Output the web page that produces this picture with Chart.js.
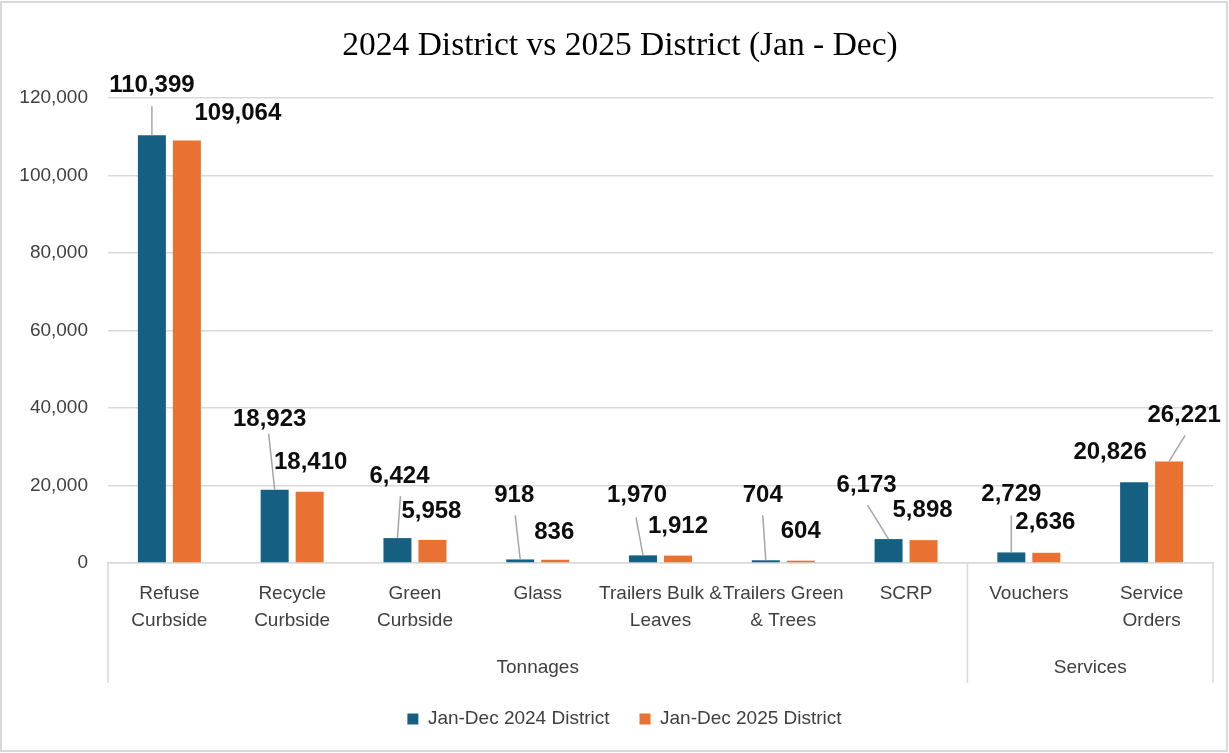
<!DOCTYPE html>
<html><head><meta charset="utf-8">
<script src="https://cdn.jsdelivr.net/npm/chart.js@4.4.1/dist/chart.umd.min.js"></script>
<style>html,body{margin:0;padding:0;background:#fff}canvas{display:block}</style>
</head><body>
<canvas id="c" width="1229" height="753"></canvas>
<script>
const categories = [['Refuse','Curbside'],['Recycle','Curbside'],['Green','Curbside'],['Glass'],['Trailers Bulk &','Leaves'],['Trailers Green','& Trees'],['SCRP'],['Vouchers'],['Service','Orders']];
const series2024 = [110399,18923,6424,918,1970,704,6173,2729,20826];
const series2025 = [109064,18410,5958,836,1912,604,5898,2636,26221];
const seriesNames = ['Jan-Dec 2024 District','Jan-Dec 2025 District'];
const groupLabels = ['Tonnages','Services'];
const groupSizes = [7,2];
const yMin = 0, yMax = 120000, yStep = 20000;
const titleText = '2024 District vs 2025 District (Jan - Dec)';

const FONT = 'Liberation Sans';
const fmt = v => v.toLocaleString('en-US');

const frame = {
  id:'frame',
  beforeDraw(chart){
    const c=chart.ctx; c.save();
    c.fillStyle='#fff'; c.fillRect(0,0,chart.width,chart.height);
    c.strokeStyle='#d9d9d9'; c.lineWidth=2;
    c.strokeRect(1,2,chart.width-3,chart.height-4);
    c.restore();
  }
};

// shift title and legend horizontally to match the reference centring
const shiftBlocks = {
  id:'shiftBlocks',
  afterLayout(chart,args,opts){
    if(chart.titleBlock){chart.titleBlock.left+=opts.title;chart.titleBlock.right+=opts.title;}
    if(chart.legend){chart.legend.left+=opts.legend;chart.legend.right+=opts.legend;}
  }
};

const groups = {
  id:'groups',
  afterDraw(chart){
    const c=chart.ctx, xs=chart.scales.x, a=chart.chartArea;
    const half=(xs.getPixelForValue(1)-xs.getPixelForValue(0))/2;
    c.save();
    c.strokeStyle='#d9d9d9'; c.lineWidth=1.5;
    c.fillStyle='#404040'; c.font='19px "'+FONT+'"';
    c.textAlign='center'; c.textBaseline='middle';
    let start=0;
    const bounds=[xs.getPixelForValue(0)-half];
    groupSizes.forEach((n,gi)=>{
      const l=xs.getPixelForValue(start)-half, r=xs.getPixelForValue(start+n-1)+half;
      bounds.push(r);
      c.fillText(groupLabels[gi],(l+r)/2,a.bottom+105);
      start+=n;
    });
    bounds.forEach(x=>{c.beginPath();c.moveTo(x,a.bottom);c.lineTo(x,a.bottom+120);c.stroke();});
    c.restore();
  }
};

const barLabels = {
  id:'barLabels',
  afterDatasetsDraw(chart,args,opts){
    const c=chart.ctx; c.save();
    c.font='bold 24px "'+FONT+'"'; c.textAlign='center'; c.textBaseline='middle';
    chart.data.datasets.forEach((ds,di)=>{
      chart.getDatasetMeta(di).data.forEach((bar,i)=>{
        const o=opts.offsets[di][i];
        const lx=bar.x+o[0], ly=bar.y+o[1];
        if(o.length>2){
          c.strokeStyle='#a6a6a6'; c.lineWidth=1.5;
          c.beginPath(); c.moveTo(lx+o[2],ly+o[3]); c.lineTo(bar.x,bar.y); c.stroke();
        }
        c.fillStyle='#0d0d0d';
        c.fillText(fmt(ds.data[i]),lx,ly);
      });
    });
    c.restore();
  }
};

new Chart(document.getElementById('c'),{
  type:'bar',
  data:{
    labels:categories,
    datasets:[
      {label:seriesNames[0],data:series2024,backgroundColor:'#156082',barPercentage:0.8,categoryPercentage:0.57},
      {label:seriesNames[1],data:series2025,backgroundColor:'#E97132',barPercentage:0.8,categoryPercentage:0.57}
    ]
  },
  options:{
    responsive:false, animation:false, devicePixelRatio:1,
    layout:{padding:{left:10,right:16,top:0,bottom:14.5}},
    plugins:{
      title:{display:true,text:titleText,color:'#000',font:{family:'Liberation Serif',size:33.5,weight:'normal',lineHeight:1.2},padding:{top:26,bottom:31.8}},
      legend:{position:'bottom',labels:{boxWidth:11,boxHeight:11,padding:30,color:'#404040',font:{family:FONT,size:19}}},
      tooltip:{enabled:false},
      shiftBlocks:{title:8.5,legend:13},
      barLabels:{offsets:[
        [[0,-50,0,21],[-5,-70,-1,14],[2,-62,1,20],[-6,-64,1,20],[-6,-60,-1,22],[-3,-65,0,20],[-22,-54,1,20],[0,-58,0,21],[-24,-30]],
        [[51,-27],[1,-29],[-1,-29],[-1,-27],[0,-29],[0,-29],[-1,-30],[-1,-30],[15,-46,1,20]]
      ]}
    },
    scales:{
      x:{
        grid:{display:false,drawTicks:false},
        border:{display:true,color:'#d9d9d9',width:1.5},
        ticks:{autoSkip:false,maxRotation:0,minRotation:0,padding:17,color:'#404040',font:{family:FONT,size:19,lineHeight:1.42}},
        afterFit:s=>{s.height=116.5;}
      },
      y:{
        min:yMin,max:yMax,
        grid:{color:'#d9d9d9',lineWidth:1.5,drawTicks:false},
        border:{display:false},
        ticks:{stepSize:yStep,padding:20,color:'#404040',font:{family:FONT,size:19},callback:v=>fmt(v)},
        afterFit:s=>{s.width=98;}
      }
    }
  },
  plugins:[frame,shiftBlocks,groups,barLabels]
});
</script>
</body></html>
